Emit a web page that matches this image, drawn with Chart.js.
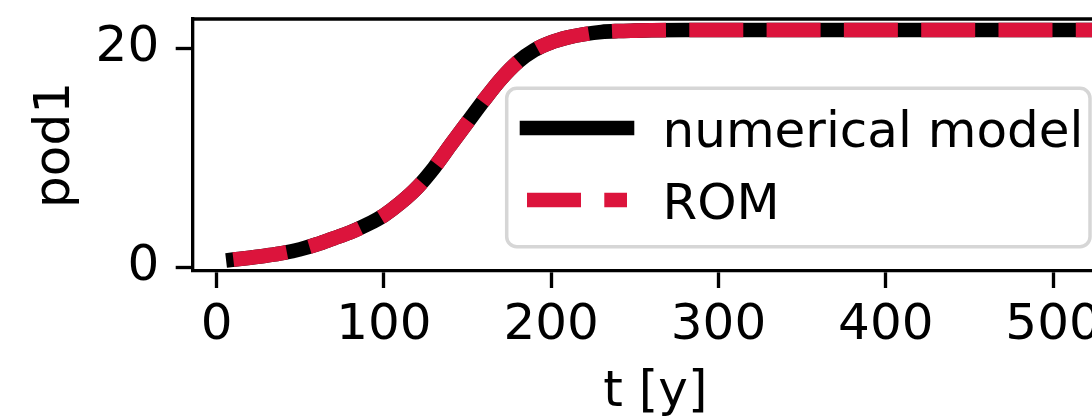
<!DOCTYPE html>
<html>
<head>
<meta charset="utf-8">
<script src="https://cdn.jsdelivr.net/npm/chart.js@4.4.0/dist/chart.umd.min.js"></script>
<style>
html, body { margin: 0; padding: 0; background: #fff; overflow: hidden; width: 1092px; height: 419px; }
#wrap { width: 1118px; height: 430px; }
</style>
</head>
<body>
<div id="wrap"><canvas id="pod" width="1118" height="430"></canvas></div>
<script>
// values
var tValues = [10, 20, 30, 40, 50, 60, 70, 80, 90, 100, 110, 120, 130, 140, 150, 160, 170, 180, 190, 200,
               210, 220, 230, 240, 250, 260, 280, 300, 320, 340, 360, 380, 400, 420, 440, 460, 480, 500, 520, 540];
var numericalModel = [0.7, 0.88, 1.08, 1.32, 1.65, 2.1, 2.65, 3.2, 3.9, 4.75, 5.9, 7.3, 9.1, 11.2, 13.25, 15.3, 17.2, 18.75, 19.85, 20.55,
                      21.0, 21.3, 21.5, 21.58, 21.62, 21.65, 21.67, 21.67, 21.67, 21.67, 21.67, 21.67, 21.67, 21.67, 21.67, 21.67, 21.67, 21.67, 21.67, 21.67];
var rom = [0.7, 0.88, 1.08, 1.32, 1.65, 2.1, 2.65, 3.2, 3.9, 4.75, 5.9, 7.3, 9.1, 11.2, 13.25, 15.3, 17.2, 18.75, 19.85, 20.55,
           21.0, 21.3, 21.5, 21.58, 21.62, 21.65, 21.67, 21.67, 21.67, 21.67, 21.67, 21.67, 21.67, 21.67, 21.67, 21.67, 21.67, 21.67, 21.67, 21.67];
var xTicks = [0, 100, 200, 300, 400, 500];
var yTicks = [0, 20];
var seriesLabels = ['numerical model', 'ROM'];

Chart.defaults.font.family = 'DejaVu Sans';
Chart.defaults.color = '#000';

function points(values) {
    return tValues.map(function (t, i) { return { x: t, y: values[i] }; });
}

// top (and right) spine, like matplotlib
var frame = {
    id: 'frame',
    afterDatasetsDraw: function (chart) {
        var a = chart.chartArea, ctx = chart.ctx;
        ctx.save();
        ctx.strokeStyle = '#000';
        ctx.lineWidth = 3.33;
        ctx.lineCap = 'square';
        ctx.beginPath();
        ctx.moveTo(a.left, a.top);
        ctx.lineTo(a.right, a.top);
        ctx.lineTo(a.right, a.bottom);
        ctx.stroke();
        ctx.restore();
    }
};

// boxed legend in the axes
var legendBox = {
    id: 'legendBox',
    afterDraw: function (chart) {
        var ctx = chart.ctx;
        var x = 506.7, y = 88.3, w = 583.3, h = 158.4, r = 10;
        ctx.save();
        ctx.beginPath();
        ctx.moveTo(x + r, y);
        ctx.arcTo(x + w, y, x + w, y + h, r);
        ctx.arcTo(x + w, y + h, x, y + h, r);
        ctx.arcTo(x, y + h, x, y, r);
        ctx.arcTo(x, y, x + w, y, r);
        ctx.closePath();
        ctx.fillStyle = 'rgba(255,255,255,0.8)';
        ctx.fill();
        ctx.strokeStyle = '#d6d6d6';
        ctx.lineWidth = 3.5;
        ctx.stroke();

        var rows = [128, 200];
        chart.data.datasets.forEach(function (ds, i) {
            var cy = rows[i];
            ctx.beginPath();
            ctx.strokeStyle = ds.borderColor;
            ctx.lineWidth = ds.borderWidth;
            ctx.lineCap = ds.borderCapStyle;
            ctx.setLineDash(ds.borderDash || []);
            ctx.moveTo(527, cy);
            ctx.lineTo(627, cy);
            ctx.stroke();
            ctx.setLineDash([]);
            ctx.fillStyle = '#000';
            ctx.font = '50px "DejaVu Sans"';
            ctx.textBaseline = 'alphabetic';
            ctx.textAlign = 'left';
            ctx.fillText(ds.label, 662.5, cy + 18.5);
        });
        ctx.restore();
    }
};

function noPad(s) {
    s.paddingTop = 0;
    s.paddingBottom = 0;
    s.paddingLeft = 0;
    s.paddingRight = 0;
}

var ctx = document.getElementById('pod').getContext('2d');
var podChart = new Chart(ctx, {
    type: 'line',
    data: {
        datasets: [{
            label: seriesLabels[0],
            data: points(numericalModel),
            borderColor: '#000000',
            borderWidth: 14.6,
            borderCapStyle: 'square',
            pointRadius: 0,
            cubicInterpolationMode: 'monotone',
            order: 1
        }, {
            label: seriesLabels[1],
            data: points(rom),
            borderColor: '#dc143c',
            borderWidth: 14.6,
            borderCapStyle: 'butt',
            borderDash: [54, 23.3],
            pointRadius: 0,
            cubicInterpolationMode: 'monotone',
            order: 0
        }]
    },
    options: {
        responsive: false,
        animation: false,
        devicePixelRatio: 1,
        layout: { padding: { top: 19, left: 0, right: 0, bottom: 0 } },
        plugins: { legend: { display: false }, tooltip: { enabled: false } },
        scales: {
            x: {
                type: 'linear',
                min: -14.3,
                max: 538.8,
                afterBuildTicks: function (s) { s.ticks = xTicks.map(function (v) { return { value: v }; }); },
                afterFit: function (s) { s.height = 159; noPad(s); },
                ticks: { autoSkip: false, maxRotation: 0, font: { size: 50 }, padding: 8.5 },
                grid: { drawOnChartArea: false, tickLength: 17, tickWidth: 3.33, tickColor: '#000' },
                border: { color: '#000', width: 3.33 },
                title: { display: true, text: 't [y]', font: { size: 50 }, padding: { top: 0, bottom: 6.5 } }
            },
            y: {
                type: 'linear',
                min: -0.34,
                max: 22.68,
                afterBuildTicks: function (s) { s.ticks = yTicks.map(function (v) { return { value: v }; }); },
                afterFit: function (s) { s.width = 192.7; noPad(s); },
                ticks: { font: { size: 50 }, padding: 16.5 },
                grid: { drawOnChartArea: false, tickLength: 17, tickWidth: 3.33, tickColor: '#000' },
                border: { color: '#000', width: 3.33 },
                title: { display: true, text: 'pod1', font: { size: 50 }, padding: { top: 26.5, bottom: 0 } }
            }
        }
    },
    plugins: [frame, legendBox]
});
</script>
</body>
</html>
